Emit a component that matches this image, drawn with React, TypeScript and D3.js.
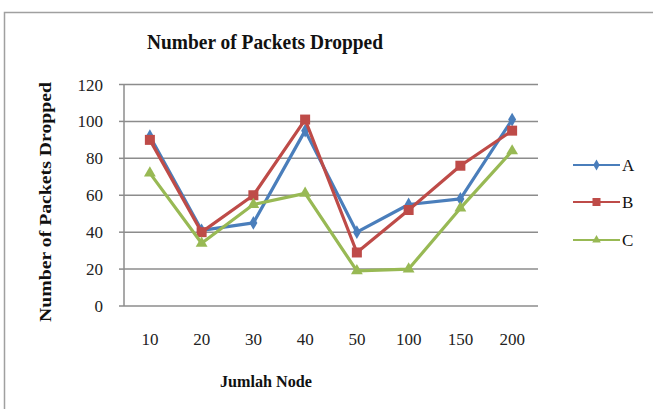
import React from "react";
import * as d3 from "d3";

const categories = ["10", "20", "30", "40", "50", "100", "150", "200"];
const seriesA = [92, 41, 45, 95, 40, 55, 58, 101];
const seriesB = [90, 40, 60, 101, 29, 52, 76, 95];
const seriesC = [72, 34, 55, 61, 19, 20, 53, 84];
const yTicks = [0, 20, 40, 60, 80, 100, 120];
const seriesNames = ["A", "B", "C"];
const seriesColors = ["#4a7ebb", "#be4b48", "#98b954"];

const W = 653;
const H = 409;
const plot = { left: 124, right: 538, top: 84.5, bottom: 306 };
const FONT = "'Liberation Serif', 'Times New Roman', serif";

function Marker({ type, x, y, s, color }: { type: number; x: number; y: number; s: number; color: string }) {
  if (type === 0) {
    const p = d3.symbol(d3.symbolDiamond, s * s * 0.55)();
    return <path d={p || ""} transform={`translate(${x},${y})`} fill={color} />;
  }
  if (type === 1) {
    return <rect x={x - s / 2} y={y - s / 2} width={s} height={s} fill={color} />;
  }
  const p = d3.symbol(d3.symbolTriangle, s * s * 0.5)();
  return <path d={p || ""} transform={`translate(${x},${y})`} fill={color} />;
}

export default function App() {
  const x = d3.scaleBand<string>().domain(categories).range([plot.left, plot.right]);
  const y = d3.scaleLinear().domain([0, 120]).range([plot.bottom, plot.top]);
  const data = [seriesA, seriesB, seriesC];
  const line = d3
    .line<number>()
    .x((_, i) => (x(categories[i]) as number) + x.bandwidth() / 2)
    .y((d) => y(d));
  const legendY = [165, 202, 240];
  const markerSizes = [10, 10, 11];

  return (
    <svg
      width={W}
      height={H}
      style={{ position: "absolute", left: 0, top: 0, background: "#fff" }}
      fontFamily={FONT}
    >
      <rect x={0} y={0} width={W} height={H} fill="#fff" />
      <rect x={4.5} y={12.5} width={W + 20} height={H + 20} fill="none" stroke="#a0a0a0" strokeWidth={1.5} />

      <text
        x={265}
        y={49}
        textAnchor="middle"
        fontSize={22}
        fontWeight="bold"
        fill="#111"
        textLength={236}
        lengthAdjust="spacingAndGlyphs"
      >
        Number of Packets  Dropped
      </text>

      {yTicks.map((t) => (
        <g key={t}>
          <line x1={plot.left} x2={plot.right} y1={y(t)} y2={y(t)} stroke="#8c8c8c" strokeWidth={1.5} />
          <line x1={plot.left - 5} x2={plot.left} y1={y(t)} y2={y(t)} stroke="#8c8c8c" strokeWidth={1.5} />
          <text x={103} y={y(t) + 6} textAnchor="end" fontSize={17} fill="#222">
            {t}
          </text>
        </g>
      ))}
      <line x1={plot.left} x2={plot.left} y1={plot.top} y2={plot.bottom} stroke="#8c8c8c" strokeWidth={1.5} />

      {categories.map((c) => (
        <text key={c} x={(x(c) as number) + x.bandwidth() / 2} y={345} textAnchor="middle" fontSize={17} fill="#222">
          {c}
        </text>
      ))}

      <text x={266} y={387} textAnchor="middle" fontSize={17} fontWeight="bold" fill="#111" textLength={92} lengthAdjust="spacingAndGlyphs">
        Jumlah Node
      </text>

      <text
        transform={`translate(51,202) rotate(-90)`}
        textAnchor="middle"
        fontSize={16}
        fontWeight="bold"
        fill="#111"
        textLength={240}
        lengthAdjust="spacingAndGlyphs"
      >
        Number of Packets  Dropped
      </text>

      {data.map((vals, si) => (
        <g key={si}>
          <path d={line(vals) || ""} fill="none" stroke={seriesColors[si]} strokeWidth={3.2} strokeLinejoin="round" />
          {vals.map((v, i) => (
            <Marker
              key={i}
              type={si}
              x={(x(categories[i]) as number) + x.bandwidth() / 2}
              y={y(v)}
              s={markerSizes[si]}
              color={seriesColors[si]}
            />
          ))}
        </g>
      ))}

      {seriesNames.map((n, si) => (
        <g key={n}>
          <line x1={573} x2={620} y1={legendY[si]} y2={legendY[si]} stroke={seriesColors[si]} strokeWidth={2} />
          <Marker type={si} x={596.5} y={legendY[si]} s={8} color={seriesColors[si]} />
          <text x={622} y={legendY[si] + 6} fontSize={17} fill="#111">
            {n}
          </text>
        </g>
      ))}
    </svg>
  );
}
